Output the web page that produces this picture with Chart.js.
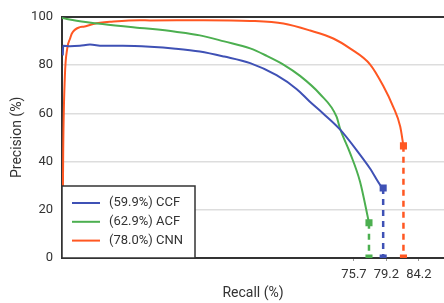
<!DOCTYPE html>
<html>
<head>
<meta charset="utf-8">
<script src="https://cdn.jsdelivr.net/npm/chart.js@4"></script>
<style>
  html, body { margin: 0; padding: 0; background: #fff; }
  #wrap { width: 444px; height: 303px; }
</style>
</head>
<body>
<div id="wrap"><canvas id="pr-chart"></canvas></div>
<script>
const ccfRecall = [0.2, 0.3, 2, 4.4, 6.9, 10, 15, 21.7, 28, 34, 40, 46.4, 52.9, 57.9, 61, 64.4, 68.6, 73.1, 76, 78.8, 79.2];
const ccfPrec   = [84, 88, 87.8, 88, 88.5, 88, 88, 87.6, 86.8, 85.6, 83.5, 80.8, 75.8, 70.0, 65, 59.9, 53.2, 43.7, 37, 29.5, 29];

const acfRecall = [0, 3.6, 10, 19.2, 21.7, 28, 34, 40, 46.4, 50.5, 54.6, 58.7, 63.6, 67.7, 68.6, 71, 73.5, 75.7];
const acfPrec   = [99.5, 98.4, 97, 95.4, 95.0, 93.8, 92.3, 89.8, 86.9, 83.8, 80.2, 75.5, 68.0, 58.6, 53.5, 43.7, 31.6, 14.6];

const cnnRecall = [0.1, 0.3, 0.7, 1.3, 2.0, 2.4, 4.4, 5.3, 7.7, 9.4, 11.8, 19.2, 21.7, 35, 46.4, 54.6, 61.2, 66.9, 71.0, 76.0, 79.2, 81.7, 83.4, 84.2];
const cnnPrec   = [0, 45, 75, 86.9, 91, 93, 95.7, 95.9, 97, 97.5, 97.9, 98.6, 98.5, 98.6, 98.3, 97.2, 94.3, 91, 86.9, 80.2, 71.4, 62.6, 54.5, 46.5];

const seriesNames  = ['(59.9%) CCF', '(62.9%) ACF', '(78.0%) CNN'];
const seriesColors = ['#3F51B5', '#4CAF50', '#FF5722'];

// x tick slots and the labels shown under them
const xTickPos    = [72, 80, 88];
const xTickLabels = ['75.7', '79.2', '84.2'];

const FONT = 'Roboto, "Noto Sans", sans-serif';

function pts(xs, ys) {
  return xs.map((x, i) => ({ x: x, y: ys[i] }));
}

function dropLine(xs, ys, color) {
  const last = xs.length - 1;
  return {
    data: [{ x: xs[last], y: ys[last] }, { x: xs[last], y: 0 }],
    borderColor: color,
    backgroundColor: color,
    borderWidth: 2.5,
    borderDash: [6, 5],
    pointStyle: 'rect',
    pointRadius: 5,
    pointBorderWidth: 0,
    inLegend: false
  };
}

const curves = [[ccfRecall, ccfPrec], [acfRecall, acfPrec], [cnnRecall, cnnPrec]];

const datasets = [];
curves.forEach((c, i) => {
  datasets.push({
    label: seriesNames[i],
    data: pts(c[0], c[1]),
    borderColor: seriesColors[i],
    borderWidth: 2,
    pointRadius: 0,
    cubicInterpolationMode: 'monotone',
    inLegend: true
  });
});
curves.forEach((c, i) => datasets.push(dropLine(c[0], c[1], seriesColors[i])));

// boxed legend sitting in the lower left corner of the plot
const boxLegend = {
  id: 'boxLegend',
  afterDatasetsDraw(chart) {
    const { ctx, chartArea } = chart;
    const items = chart.data.datasets.filter(d => d.inLegend);
    const w = 133, h = 72;
    const x0 = chartArea.left, y0 = chartArea.bottom - h;
    ctx.save();
    ctx.fillStyle = '#fff';
    ctx.fillRect(x0, y0, w, h);
    ctx.strokeStyle = '#333';
    ctx.lineWidth = 1.5;
    ctx.strokeRect(x0, y0, w, h);
    ctx.font = '13px ' + FONT;
    ctx.textBaseline = 'middle';
    items.forEach((d, i) => {
      const y = y0 + 17 + i * 18.8;
      ctx.strokeStyle = d.borderColor;
      ctx.lineWidth = 2;
      ctx.beginPath();
      ctx.moveTo(x0 + 10, y);
      ctx.lineTo(x0 + 38, y);
      ctx.stroke();
      ctx.fillStyle = '#333';
      ctx.fillText(d.label, x0 + 47, y);
    });
    ctx.restore();
  }
};

new Chart(document.getElementById('pr-chart'), {
  type: 'line',
  data: { datasets: datasets },
  plugins: [boxLegend],
  options: {
    responsive: true,
    maintainAspectRatio: false,
    animation: false,
    layout: { autoPadding: false, padding: { top: 11, right: 0, bottom: 0, left: 0 } },
    plugins: {
      legend: { display: false },
      tooltip: { enabled: false }
    },
    scales: {
      x: {
        type: 'linear',
        min: 0,
        max: 94.2,
        afterFit(scale) {
          scale.height = 45;
          scale.paddingLeft = 0;
          scale.paddingRight = 0;
        },
        afterBuildTicks(scale) {
          scale.ticks = xTickPos.map(v => ({ value: v }));
        },
        ticks: {
          autoSkip: false,
          maxRotation: 0,
          padding: 6,
          color: '#333',
          font: { family: FONT, size: 13 },
          callback: (v, i) => xTickLabels[i]
        },
        grid: {
          drawOnChartArea: false,
          drawTicks: true,
          tickLength: 3,
          color: '#999'
        },
        border: { color: '#333', width: 2 },
        title: {
          display: true,
          text: 'Recall (%)',
          color: '#333',
          font: { family: FONT, size: 14, lineHeight: 1.2 },
          padding: { top: 0, bottom: 1 }
        }
      },
      y: {
        min: 0,
        max: 100,
        afterFit(scale) { scale.width = 62; },
        ticks: {
          stepSize: 20,
          padding: 9,
          color: '#333',
          font: { family: FONT, size: 13 }
        },
        grid: {
          drawTicks: false,
          color: c => (c.tick && (c.tick.value === 100 || c.tick.value === 0)) ? '#333' : '#ddd',
          lineWidth: c => (c.tick && c.tick.value === 100) ? 2 : 1.5
        },
        border: { color: '#333', width: 2 },
        title: {
          display: true,
          text: 'Precision (%)',
          color: '#333',
          font: { family: FONT, size: 14, lineHeight: 1.2 },
          padding: { top: 9, bottom: 0 }
        }
      }
    }
  }
});
</script>
</body>
</html>
